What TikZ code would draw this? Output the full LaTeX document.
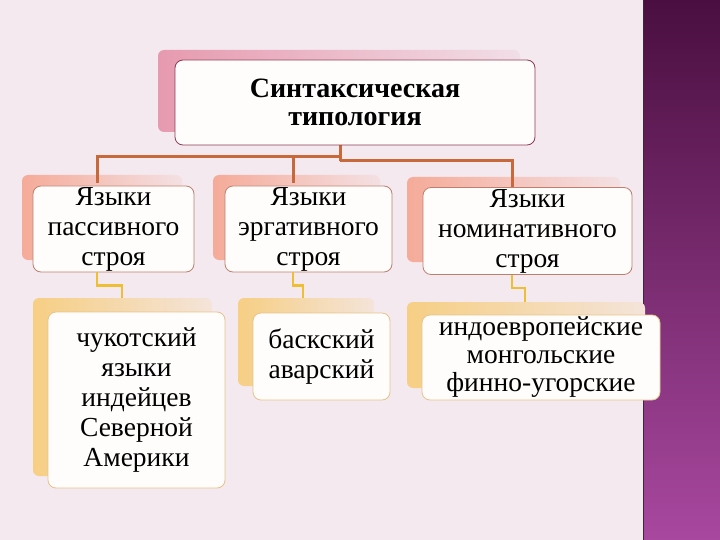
\documentclass[tikz,border=0pt]{standalone}
\usepackage{fontspec}
\setmainfont{Liberation Serif}
\definecolor{bgc}{HTML}{F3E9EF}
\definecolor{bandtop}{HTML}{4A0F40}
\definecolor{bandbot}{HTML}{A8489F}
\definecolor{bandline}{HTML}{3A2A38}
\definecolor{pinkS}{HTML}{E48CA4}
\definecolor{salmonS}{HTML}{F6A08A}
\definecolor{yellowS}{HTML}{F7CC78}
\definecolor{brownC}{HTML}{C8693C}
\definecolor{yellowC}{HTML}{EEBE34}
\definecolor{topB}{HTML}{8E3A55}
\definecolor{midB}{HTML}{BF7F6E}
\definecolor{lowB}{HTML}{E6C48A}
\definecolor{boxF}{HTML}{FFFDFB}
\tikzset{
  box/.style={draw, fill=boxF, rounded corners=8pt, line width=0.8pt, inner sep=0pt,
    align=center, font=\fontsize{27.5}{30}\selectfont},
  topbox/.style={box, draw=topB, font=\fontsize{28}{28.5}\selectfont\bfseries},
  midbox/.style={box, draw=midB},
  lowbox/.style={box, draw=lowB},
  brownline/.style={draw=brownC, line width=3pt},
  yellowline/.style={draw=yellowC, line width=2.5pt},
  pinkshadow/.style={left color=pinkS!85!bgc, middle color=pinkS!25!bgc, right color=pinkS!12!bgc, rounded corners=6pt},
  salmonshadow/.style={left color=salmonS!85!bgc, middle color=salmonS!25!bgc, right color=salmonS!12!bgc, rounded corners=6pt},
  yellowshadow/.style={left color=yellowS!90!bgc, middle color=yellowS!35!bgc, right color=yellowS!18!bgc, rounded corners=6pt},
}
\begin{document}
\begin{tikzpicture}[x=1pt,y=-1pt]
\useasboundingbox (0,0) rectangle (720,540);
\fill[bgc] (0,0) rectangle (720,540);
\shade[top color=bandtop, bottom color=bandbot] (643,0) rectangle (720,540);
\draw[bandline, line width=1.5pt] (643.5,0) -- (643.5,540);
% shadows
\shade[pinkshadow] (158,50) rectangle (520,132);
\shade[salmonshadow] (22,175) rectangle (182,260);
\shade[salmonshadow] (213,175) rectangle (380,260);
\shade[salmonshadow] (407,177) rectangle (620,262);
\shade[yellowshadow] (33,298) rectangle (212,476);
\shade[yellowshadow] (238,298) rectangle (374,386);
\shade[yellowshadow] (407,302) rectangle (645,388);
% coordinates
\coordinate (t0) at (340,145);
\coordinate (j1) at (340,157);
\coordinate (j2) at (340,161);
\coordinate (e1) at (97,183);
\coordinate (e2) at (293,183);
\coordinate (e3) at (512,187);
\coordinate (s1) at (122,298);
\coordinate (s2) at (303,298);
\coordinate (s3) at (525,302);
% connectors
\draw[brownline] (t0) -- (j2);
\draw[brownline] (j1) -| (e1);
\draw[brownline] (j1) -| (e2);
\draw[brownline] (j2) -| (e3);
% nodes
\node[topbox, minimum width=360pt, minimum height=85pt] (top) at (355,102.5) {Синтаксическая\\типология};
\node[midbox, minimum width=161pt, minimum height=86pt] (b1) at (113.5,229) {Языки\\пассивного\\строя};
\node[midbox, minimum width=167pt, minimum height=86pt] (b2) at (308.5,229) {Языки\\эргативного\\строя};
\node[midbox, minimum width=209pt, minimum height=87pt] (b3) at (527.5,231) {Языки\\номинативного\\строя};
\draw[yellowline] (b1.south -| e1) -- ++(0,13) -| (s1);
\draw[yellowline] (b2.south -| e2) -- ++(0,13) -| (s2);
\draw[yellowline] (b3.south -| e3) -- ++(0,13) -| (s3);
\node[lowbox, minimum width=177pt, minimum height=176pt] (c1) at (136.5,400) {чукотский\\языки\\индейцев\\Северной\\Америки};
\node[lowbox, minimum width=137pt, minimum height=87pt] (c2) at (321.5,356.5) {баскский\\аварский};
\node[lowbox, minimum width=238pt, minimum height=85pt, font=\fontsize{27.5}{28}\selectfont] (c3) at (541,357.5) {индоевропейские\\монгольские\\финно-угорские};
\end{tikzpicture}
\end{document}
